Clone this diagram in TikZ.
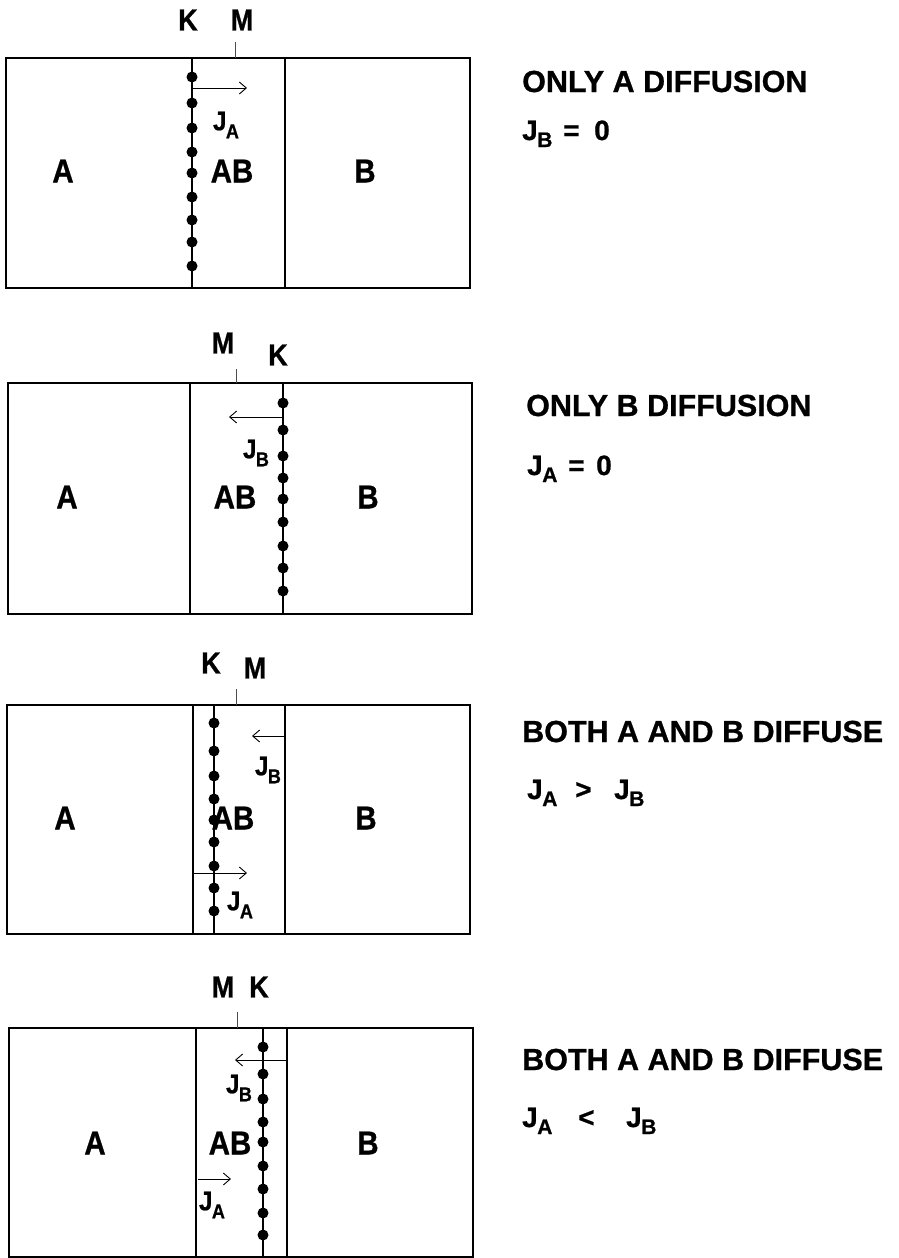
\documentclass[tikz,border=0pt]{standalone}
\usepackage{fontspec}
\setmainfont{Liberation Sans}[BoldFeatures={FakeBold=0.8}]
\usetikzlibrary{arrows.meta}
\newcommand\jsub[1]{J\kern-0.5pt\raisebox{-0.3em}{\fontsize{18}{18}\selectfont #1}}
\newcommand\jbig[1]{J\kern-0.5pt\raisebox{-0.25em}{\fontsize{21}{21}\selectfont #1}}
\newcommand\tall[1]{\scalebox{1}[1.12]{#1}}
\tikzset{
  box/.style={line width=1.4pt},
  kline/.style={line width=1.6pt},
  tick/.style={line width=0.8pt, black!70},
  flux/.style={line width=0.9pt, -{Straight Barb[length=7pt,width=12pt]}},
  dot/.style={circle, fill=black, inner sep=0pt, minimum size=11pt},
  region/.style={font=\fontsize{29.5}{31}\selectfont\bfseries, inner sep=0pt},
  mk/.style={font=\fontsize{27}{30}\selectfont\bfseries, inner sep=0pt},
  jl/.style={font=\fontsize{24}{26}\selectfont\bfseries, inner sep=0pt},
  title/.style={font=\fontsize{30.5}{32}\selectfont\bfseries, anchor=base west, inner sep=0pt},
  eq/.style={font=\fontsize{28}{30}\selectfont\bfseries, anchor=base west, inner sep=0pt},
}
\begin{document}
\begin{tikzpicture}[x=1pt,y=-1pt]
\useasboundingbox (0,0) rectangle (898,1258);
% ---------- Panel 1 ----------
\draw[box] (6,58) rectangle (470,288);
\draw[box] (285,58) -- (285,288);
\draw[kline] (192,58) -- (192,288);
\draw[tick] (235,42) -- (235,58);
\foreach \y [count=\i] in {77,103,128,152,173,197,220,242,266}
  \node[dot] (p1d\i) at (192,\y) {};
\coordinate (p1a0) at (192,88); \coordinate (p1a1) at (247,88);
\draw[flux] (p1a0) -- (p1a1);
\node[mk] (p1K) at (188,20) {\tall{K}};
\node[mk] (p1M) at (242,20) {\tall{M}};
\node[jl] (p1J) at (226,125) {\tall{\jsub{A}}};
\node[region] (p1A) at (63,171) {\tall{A}};
\node[region] (p1AB) at (232,171) {\tall{AB}};
\node[region] (p1B) at (365,171) {\tall{B}};
\node[title] (p1t) at (522,92) {ONLY A DIFFUSION};
\node[eq] (p1e1) at (522,140) {\jbig{B}};
\node[eq] (p1e2) at (563,140) {=};
\node[eq] (p1e3) at (594,140) {0};
% ---------- Panel 2 ----------
\draw[box] (8,383) rectangle (472,614);
\draw[box] (190,383) -- (190,614);
\draw[kline] (283,383) -- (283,614);
\draw[tick] (236,369) -- (236,383);
\foreach \y [count=\i] in {403,430,456,478,499,522,546,568,591}
  \node[dot] (p2d\i) at (283,\y) {};
\coordinate (p2a0) at (283,417); \coordinate (p2a1) at (229,417);
\draw[flux] (p2a0) -- (p2a1);
\node[mk] (p2M) at (223,343) {\tall{M}};
\node[mk] (p2K) at (278,355) {\tall{K}};
\node[jl] (p2J) at (256,453) {\tall{\jsub{B}}};
\node[region] (p2A) at (67,497) {\tall{A}};
\node[region] (p2AB) at (235,497) {\tall{AB}};
\node[region] (p2B) at (368,497) {\tall{B}};
\node[title] (p2t) at (526,416) {ONLY B DIFFUSION};
\node[eq] (p2e1) at (527,475) {\jbig{A}};
\node[eq] (p2e2) at (568,475) {=};
\node[eq] (p2e3) at (596,475) {0};
% ---------- Panel 3 ----------
\draw[box] (7,705) rectangle (470,934);
\draw[box] (193,705) -- (193,934);
\draw[box] (285,705) -- (285,934);
\draw[kline] (214,705) -- (214,934);
\draw[tick] (236,689) -- (236,705);
\foreach \y [count=\i] in {723,751,776,799,820,842,866,888,911}
  \node[dot] (p3d\i) at (214,\y) {};
\coordinate (p3b0) at (285,736); \coordinate (p3b1) at (252,736);
\draw[flux] (p3b0) -- (p3b1);
\coordinate (p3a0) at (193,873); \coordinate (p3a1) at (247,873);
\draw[flux] (p3a0) -- (p3a1);
\node[mk] (p3K) at (211,663) {\tall{K}};
\node[mk] (p3M) at (255,668) {\tall{M}};
\node[jl] (p3JB) at (268,770) {\tall{\jsub{B}}};
\node[jl] (p3JA) at (240,905) {\tall{\jsub{A}}};
\node[region] (p3A) at (65,818) {\tall{A}};
\node[region] (p3AB) at (233,818) {\tall{AB}};
\node[region] (p3B) at (366,818) {\tall{B}};
\node[title] (p3t) at (522,742) {BOTH A AND B DIFFUSE};
\node[eq] (p3e1) at (527,799) {\jbig{A}};
\node[eq] (p3e2) at (575,799) {>};
\node[eq] (p3e3) at (614,799) {\jbig{B}};
% ---------- Panel 4 ----------
\draw[box] (9,1028) rectangle (473,1257);
\draw[box] (196,1028) -- (196,1257);
\draw[box] (287,1028) -- (287,1257);
\draw[kline] (263,1028) -- (263,1257);
\draw[tick] (237,1012) -- (237,1028);
\foreach \y [count=\i] in {1047,1074,1099,1122,1142,1166,1189,1213,1235}
  \node[dot] (p4d\i) at (263,\y) {};
\coordinate (p4b0) at (287,1060); \coordinate (p4b1) at (235,1060);
\draw[flux] (p4b0) -- (p4b1);
\coordinate (p4a0) at (198,1179); \coordinate (p4a1) at (231,1179);
\draw[flux] (p4a0) -- (p4a1);
\node[mk] (p4M) at (223,987) {\tall{M}};
\node[mk] (p4K) at (259,987) {\tall{K}};
\node[jl] (p4JB) at (239,1088) {\tall{\jsub{B}}};
\node[jl] (p4JA) at (212,1205) {\tall{\jsub{A}}};
\node[region] (p4A) at (95,1143) {\tall{A}};
\node[region] (p4AB) at (230,1143) {\tall{AB}};
\node[region] (p4B) at (368,1143) {\tall{B}};
\node[title] (p4t) at (522,1070) {BOTH A AND B DIFFUSE};
\node[eq] (p4e1) at (522,1127) {\jbig{A}};
\node[eq] (p4e2) at (578,1127) {<};
\node[eq] (p4e3) at (626,1127) {\jbig{B}};
\end{tikzpicture}
\end{document}
